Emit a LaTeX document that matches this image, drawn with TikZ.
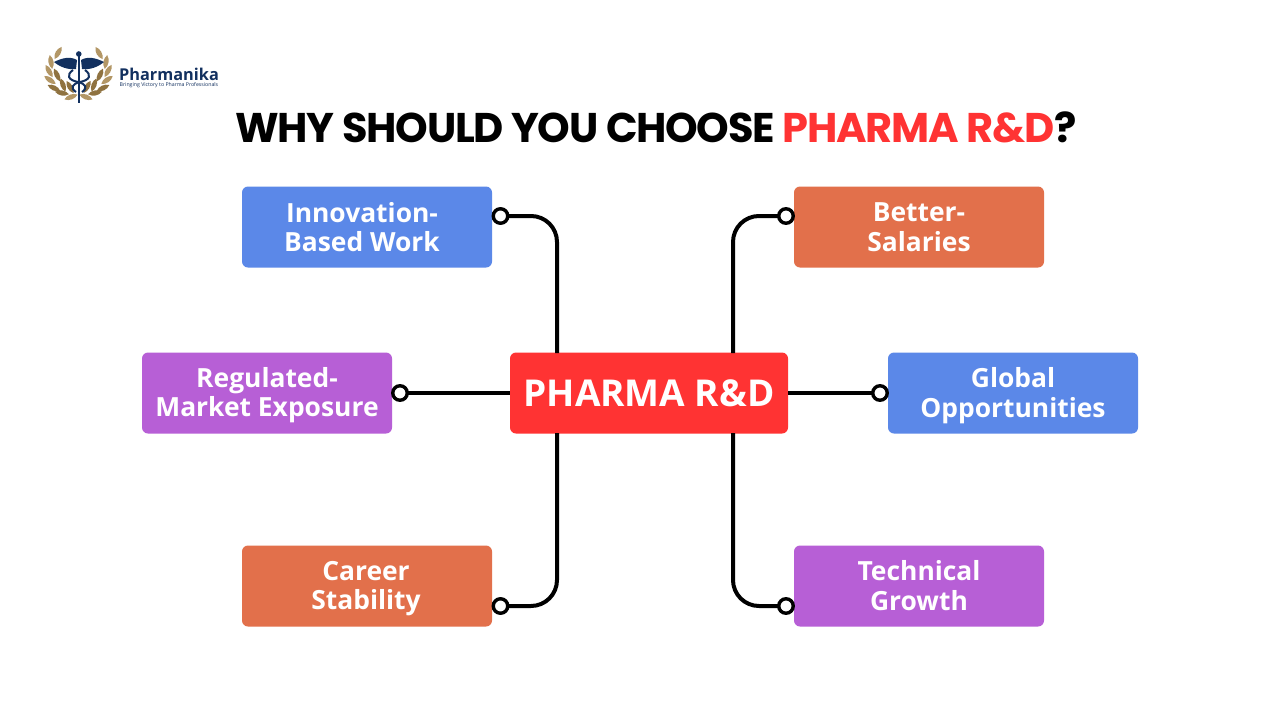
\documentclass[tikz,border=0pt]{standalone}
\usepackage{fontspec}
\setmainfont{Open Sans}
\newfontfamily\titlefont{Poppins}
\definecolor{cblue}{HTML}{5B88E8}
\definecolor{corange}{HTML}{E2704B}
\definecolor{cpurple}{HTML}{B75FD6}
\definecolor{cred}{HTML}{FF3333}
\definecolor{navy}{HTML}{12305F}
\definecolor{gold}{HTML}{B39766}
\definecolor{golddark}{HTML}{8F7240}
\tikzset{
  card/.style={draw=none,rounded corners=6pt,minimum width=250pt,minimum height=81pt,inner sep=0pt},
  cardtext/.style={inner sep=0pt,text=white,align=center,font=\fontsize{26.4}{29.6}\selectfont\bfseries},
  hub/.style={fill=cred,rounded corners=6pt,minimum width=278pt,minimum height=81pt,inner sep=0pt,text=white,font=\fontsize{37}{42}\selectfont\bfseries},
  wire/.style={draw=black,line width=4pt,rounded corners=26pt},
  dot/.style={circle,draw=black,fill=white,line width=3.4pt,minimum size=14.5pt,inner sep=0pt,outer sep=0pt}
}
\newcommand{\lf}[4]{\fill[#4,shift={(#1,#2)},rotate=#3] (-7,0) .. controls (-3,-3.4) and (3,-3.4) .. (7,0) .. controls (3,3.4) and (-3,3.4) .. (-7,0) -- cycle;}
\newcommand{\laurel}{%
\lf{58}{53}{60}{gold}\lf{51}{62}{100}{gold}\lf{49}{71}{120}{gold}\lf{50}{80}{145}{gold}\lf{54}{88}{155}{golddark}\lf{62}{93}{170}{golddark}%
\lf{57}{75}{115}{golddark}\lf{63}{85}{110}{golddark}\lf{70}{87}{120}{golddark}\lf{71}{97}{20}{gold}}
\begin{document}
\begin{tikzpicture}[x=1pt,y=-1pt]
\useasboundingbox (0,0) rectangle (1280,720);
\fill[white] (0,0) rectangle (1280,720);

% logo
\laurel
\begin{scope}[xscale=-1,shift={(-157,0)}]\laurel\end{scope}
\fill[navy] (78.8,54) circle (2.8);
\draw[navy,line width=2.4pt] (78.8,54) -- (78.8,103);
\fill[navy] (77,60) .. controls (70,56) and (62,58) .. (54,62) .. controls (60,67) and (68,70) .. (76,69) -- cycle;
\fill[navy] (81,60) .. controls (88,56) and (96,58) .. (104,62) .. controls (98,67) and (90,70) .. (82,69) -- cycle;
\draw[navy,line width=2pt] (73,70) .. controls (66,75) and (68,80) .. (78,82) .. controls (86,84) and (88,88) .. (82,92);
\draw[navy,line width=2pt] (85,70) .. controls (92,75) and (90,80) .. (80,82) .. controls (72,84) and (70,88) .. (76,92);
\node[inner sep=0pt,anchor=west,text=navy,font=\fontsize{16.3}{16}\selectfont\bfseries] (brand) at (119,74.5) {Pharmanika};
\node[inner sep=0pt,anchor=west,text=navy,font=\fontsize{5.2}{5.5}\selectfont] (tag) at (119.5,84.8) {Bringing Victory to Pharma Professionals};

% title
\node[inner sep=0pt,font=\titlefont\fontsize{41.5}{46}\selectfont\bfseries,text=black] (title) at (656,127) {\addfontfeatures{LetterSpace=-3}WHY SHOULD YOU CHOOSE \textcolor{cred}{PHARMA R\&D}?};

% hub and cards
\node[hub] (hub) at (649,393) {PHARMA R\&D};
\node[card,fill=cblue] (a) at (367,227) {};
\node[card,fill=cpurple] (b) at (267,393) {};
\node[card,fill=corange] (c) at (367,586) {};
\node[card,fill=corange] (d) at (919,227) {};
\node[card,fill=cblue] (e) at (1013,393) {};
\node[card,fill=cpurple] (f) at (919,586) {};
\node[cardtext] (ta) at (362,227) {Innovation-\\Based Work};
\node[cardtext] (tb) at (267,395) {Regulated-\\Market Exposure};
\node[cardtext] (tc) at (366,588.5) {Career\\Stability};
\node[cardtext] (td) at (919,227.5) {Better-\\Salaries};
\node[cardtext] (te) at (1013,395.5) {Global\\Opportunities};
\node[cardtext] (tf) at (919,585.5) {Technical\\Growth};

% connector ends
\node[dot] (da) at (500.5,216) {};
\node[dot] (db) at (400,393) {};
\node[dot] (dc) at (500.5,606) {};
\node[dot] (dd) at (786,216) {};
\node[dot] (de) at (880,393) {};
\node[dot] (df) at (786,606) {};
\coordinate (h1) at (557,353);
\coordinate (h2) at (733,353);
\coordinate (h3) at (557,433);
\coordinate (h4) at (733,433);

\draw[wire] (da.east) -- (557,216) -- (h1);
\draw[wire] (dd.west) -- (733,216) -- (h2);
\draw[wire] (dc.east) -- (557,606) -- (h3);
\draw[wire] (df.west) -- (733,606) -- (h4);
\draw[wire] (db.east) -- (hub.west);
\draw[wire] (de.west) -- (hub.east);
\end{tikzpicture}
\end{document}
